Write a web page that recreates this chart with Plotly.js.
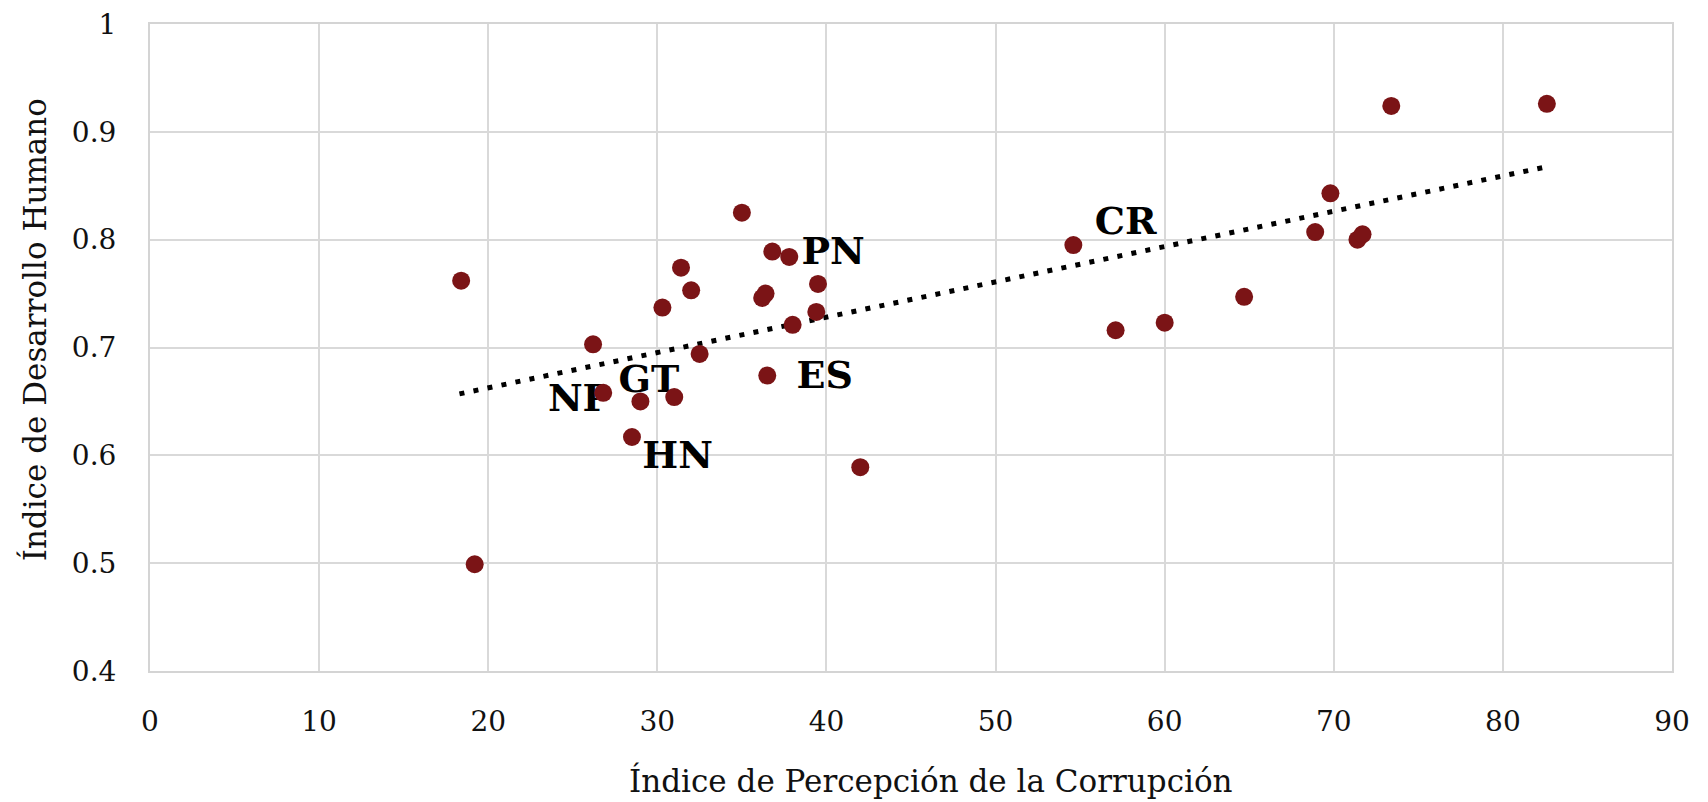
<!DOCTYPE html>
<html>
<head>
<meta charset="utf-8">
<script src="https://cdn.plot.ly/plotly-3.0.1.min.js"></script>
<style>
  html, body { margin: 0; padding: 0; background: #fff; }
  #grafico { width: 1708px; height: 802px; }
</style>
</head>
<body>
<div id="grafico"></div>
<script>
// Índice de Percepción de la Corrupción (x) vs Índice de Desarrollo Humano (y)
const ipc = [18.4, 19.2, 26.2, 26.8, 29.0, 28.5, 31.0, 30.3, 31.4, 32.0, 32.5, 35.0,
  36.2, 36.4, 36.5, 36.8, 37.8, 38.0, 39.4, 39.5, 42.0, 54.6, 57.1, 60.0, 64.7,
  68.9, 69.8, 71.4, 71.7, 73.4, 82.6];
const idh = [0.762, 0.499, 0.703, 0.658, 0.650, 0.617, 0.654, 0.737, 0.774, 0.753,
  0.694, 0.825, 0.746, 0.750, 0.674, 0.789, 0.784, 0.721, 0.733, 0.759, 0.589,
  0.795, 0.716, 0.723, 0.747, 0.807, 0.843, 0.800, 0.805, 0.924, 0.926];

// etiquetas de países
const etiquetas = ["CR", "PN", "ES", "GT", "NP", "HN"];
const etiquetaX = [57.7, 40.4, 39.9, 29.5, 25.4, 31.2];
const etiquetaY = [0.814, 0.786, 0.671, 0.668, 0.650, 0.597];

// línea de tendencia (extremos)
const tendenciaX = [18.3, 82.4];
const tendenciaY = [0.657, 0.867];

const xTicks = [0, 10, 20, 30, 40, 50, 60, 70, 80, 90];
const yTicks = [0.4, 0.5, 0.6, 0.7, 0.8, 0.9, 1];
const yTickTexte = ["0.4", "0.5", "0.6", "0.7", "0.8", "0.9", "1"];

const serif = "DejaVu Serif, Liberation Serif, serif";

const spurEtiketten = {
  x: etiquetaX,
  y: etiquetaY,
  text: etiquetas,
  mode: "text",
  type: "scatter",
  textposition: "middle center",
  textfont: { family: serif, size: 38, color: "#000", weight: "bold" },
  hoverinfo: "skip"
};

const spurTendencia = {
  x: tendenciaX,
  y: tendenciaY,
  mode: "lines",
  type: "scatter",
  line: { color: "#000", width: 5, dash: "5px,9.3px" },
  hoverinfo: "skip"
};

const spurPuntos = {
  x: ipc,
  y: idh,
  mode: "markers",
  type: "scatter",
  marker: { color: "#7b1416", size: 18 }
};

const achse = {
  showgrid: true,
  gridcolor: "#d9d9d9",
  gridwidth: 2,
  showline: true,
  linecolor: "#d4d4d4",
  linewidth: 2,
  mirror: true,
  zeroline: false,
  ticks: "",
  tickfont: { family: serif, size: 28, color: "#111" }
};

const layout = {
  width: 1708,
  height: 802,
  showlegend: false,
  paper_bgcolor: "#fff",
  plot_bgcolor: "#fff",
  margin: { l: 150, r: 36, t: 24, b: 131 },
  font: { family: serif, size: 28, color: "#111" },
  xaxis: Object.assign({}, achse, {
    range: [0, 90],
    tickvals: xTicks,
    ticktext: xTicks.map(String),
    ticklabelstandoff: 24
  }),
  yaxis: Object.assign({}, achse, {
    range: [0.4, 1],
    tickvals: yTicks,
    ticktext: yTickTexte,
    ticklabelstandoff: 26
  }),
  annotations: [
    {
      text: "Índice de Percepción de la Corrupción",
      xref: "paper", yref: "paper", x: 0.513, y: -0.17,
      xanchor: "center", yanchor: "middle", showarrow: false,
      font: { family: serif, size: 31, color: "#111" }
    },
    {
      text: "Índice de Desarrollo Humano",
      xref: "paper", yref: "paper", x: -0.076, y: 0.527,
      xanchor: "center", yanchor: "middle", showarrow: false, textangle: -90,
      font: { family: serif, size: 31, color: "#111" }
    }
  ]
};

Plotly.newPlot("grafico", [spurEtiketten, spurTendencia, spurPuntos], layout,
  { staticPlot: true, displayModeBar: false });
</script>
</body>
</html>
